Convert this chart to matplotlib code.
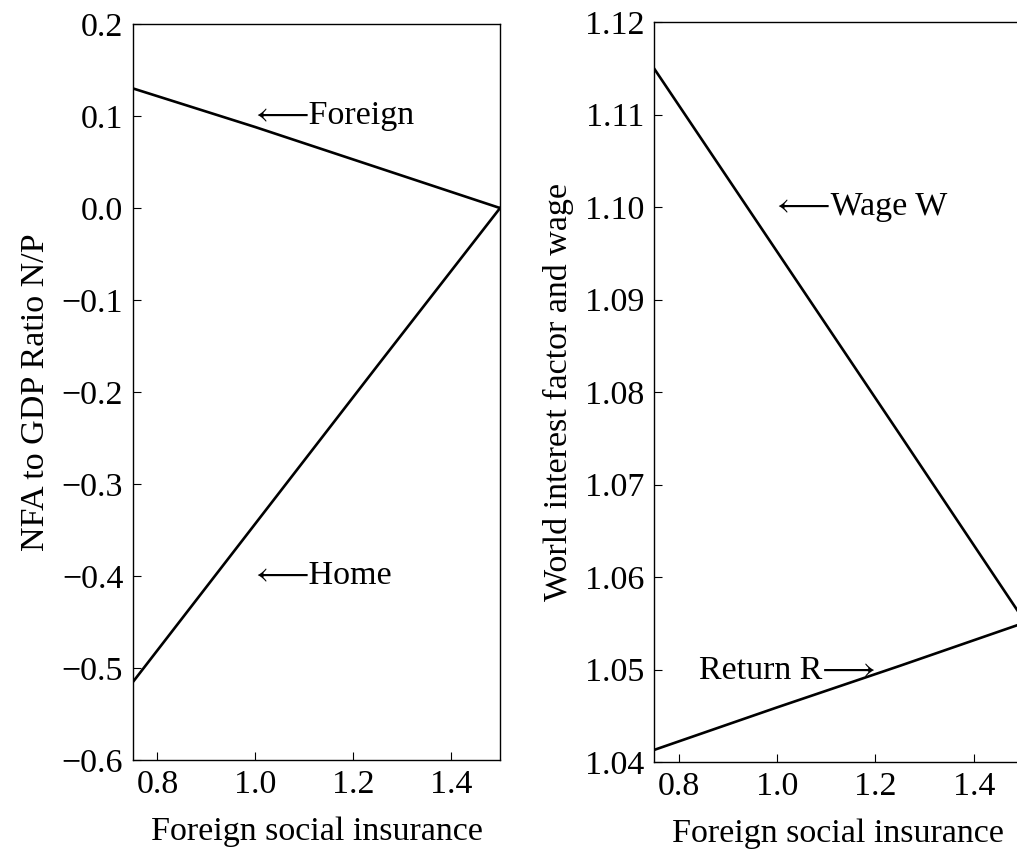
import numpy as np
import matplotlib
matplotlib.use('Agg')
import matplotlib.pyplot as plt

plt.rcParams['font.family'] = ['Liberation Serif', 'STIXGeneral', 'DejaVu Sans']
plt.rcParams['font.size'] = 24.5

# social insurance grid (x) shared by both panels
x = [0.75, 1.0, 1.25, 1.5]

# left panel: NFA to GDP ratio
foreign_nfa = [0.130, 0.088, 0.044, 0.0]
home_nfa = [-0.515, -0.343, -0.171, 0.0]

# right panel: world interest factor and wage
wage = [1.1150, 1.0952, 1.0754, 1.0555]
ret = [1.0413, 1.0459, 1.0504, 1.0550]

fig = plt.figure(figsize=(10.17, 8.56), dpi=100)
ax1 = fig.add_axes([0.1308, 0.1121, 0.3609, 0.8598])
ax2 = fig.add_axes([0.6430, 0.1098, 0.3628, 0.8645])

for ax in (ax1, ax2):
    ax.tick_params(direction='in', length=6, width=0.8, top=False, right=False, pad=7)
    for s in ax.spines.values():
        s.set_linewidth(1.0)
    ax.set_xlim(0.75, 1.5)
    ax.set_xticks([0.8, 1.0, 1.2, 1.4])
    ax.set_xticklabels(['0.8', '1.0', '1.2', '1.4'])

ax1.plot(x, foreign_nfa, color='black', lw=1.9)
ax1.plot(x, home_nfa, color='black', lw=1.9)
ax1.set_ylim(-0.6, 0.2)
yt1 = [-0.6, -0.5, -0.4, -0.3, -0.2, -0.1, 0.0, 0.1, 0.2]
ax1.set_yticks(yt1)
ax1.set_yticklabels([('\u2212' + '%.1f' % abs(v)) if v < 0 else '%.1f' % v for v in yt1])
ax1.text(1.0, 0.1, '\u27f5Foreign', ha='left', va='center')
ax1.text(1.0, -0.4, '\u27f5Home', ha='left', va='center')
ax1.set_xlabel('Foreign social insurance', labelpad=12)
ax1.set_ylabel('NFA to GDP Ratio N/P', labelpad=8)

ax2.plot(x, wage, color='black', lw=1.9)
ax2.plot(x, ret, color='black', lw=1.9)
ax2.set_ylim(1.04, 1.12)
yt2 = [1.04, 1.05, 1.06, 1.07, 1.08, 1.09, 1.10, 1.11, 1.12]
ax2.set_yticks(yt2)
ax2.set_yticklabels(['%.2f' % v for v in yt2])
ax2.text(1.0, 1.10, '\u27f5Wage W', ha='left', va='center')
ax2.text(1.2, 1.0499, 'Return R\u27f6', ha='right', va='center')
ax2.set_xlabel('Foreign social insurance', labelpad=12)
ax2.set_ylabel('World interest factor and wage', labelpad=8)

fig.savefig('out.png', dpi=100)
